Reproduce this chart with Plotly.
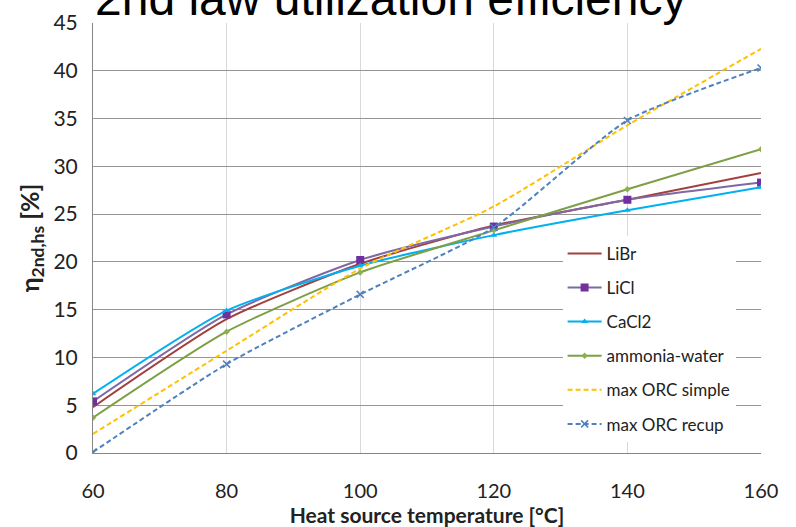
import plotly.graph_objects as go

temps = [60, 80, 100, 120, 140, 160]
libr = [4.8, 14.0, 19.8, 23.8, 26.5, 29.3]
licl = [5.4, 14.5, 20.2, 23.7, 26.5, 28.3]
cacl2 = [6.2, 14.9, 19.6, 22.8, 25.4, 27.8]
ammonia = [3.7, 12.7, 18.9, 23.3, 27.6, 31.8]
orc_simple = [2.0, 10.7, 19.3, 25.8, 34.3, 42.3]
orc_recup = [0.1, 9.3, 16.6, 23.6, 34.8, 40.3]

x_ticks = [60, 80, 100, 120, 140, 160]
y_ticks = [0, 5, 10, 15, 20, 25, 30, 35, 40, 45]

series = [
    ("LiBr", libr, dict(color="#A0413F", width=2), None),
    ("LiCl", licl, dict(color="#7F68A3", width=2), dict(symbol="square", size=8, color="#7030A0")),
    ("CaCl2", cacl2, dict(color="#00B0F0", width=2), dict(symbol="triangle-up", size=6, color="#00B0F0")),
    ("ammonia-water", ammonia, dict(color="#7E9F45", width=2), dict(symbol="diamond", size=5, color="#8DB04F")),
    ("max ORC simple", orc_simple, dict(color="#FFC000", width=2, dash="5px,3px"), None),
    ("max ORC recup", orc_recup, dict(color="#4F81BD", width=2, dash="5px,3px"), dict(symbol="x-thin", size=7, color="#4F81BD", line=dict(color="#4F81BD", width=1.5))),
]

fig = go.Figure()
for i, (name, vals, line, marker) in enumerate(series):
    fig.add_trace(go.Scatter(
        x=temps, y=vals, name=name,
        mode="lines+markers" if marker else "lines",
        line=dict(shape="spline", smoothing=0.6, **line),
        marker=marker,
        legendgroup=f"g{i}",
    ))

fig.update_layout(
    width=796, height=527,
    margin=dict(l=93, r=35, t=23, b=74),
    paper_bgcolor="white", plot_bgcolor="white",
    font=dict(family="Lato, Liberation Sans, sans-serif", color="#222"),
    showlegend=True,
    legend=dict(
        x=0.703, y=0.505, xanchor="left", yanchor="top",
        bgcolor="white", font=dict(size=17, color="#222"),
        tracegroupgap=9, traceorder="grouped",
        itemwidth=34,
    ),
    xaxis=dict(
        range=[60, 160], tickvals=x_ticks, ticktext=[str(v) for v in x_ticks],
        showgrid=True, gridcolor="#D9D9D9", gridwidth=1,
        showline=True, linecolor="#868686", linewidth=1,
        zeroline=False, tickfont=dict(size=20, color="#222"),
        ticklabelstandoff=20, automargin=False,
        title=dict(text="<b>Heat source temperature [°C]</b>", font=dict(size=21, color="#222"), standoff=2),
    ),
    yaxis=dict(
        range=[0, 45], tickvals=y_ticks, ticktext=[str(v) for v in y_ticks],
        showgrid=True, gridcolor="#969696", gridwidth=1,
        showline=True, linecolor="#868686", linewidth=1,
        zeroline=False, tickfont=dict(size=21, color="#222"),
        ticklabelstandoff=10, automargin=False,
        title=dict(text="<b>η<sub>2nd,hs</sub> [%]</b>", font=dict(size=25, color="#222"), standoff=6),
    ),
    shapes=[dict(type="rect", xref="paper", yref="paper",
                 x0=-0.2, x1=1.2, y0=453/430, y1=(453 + 4) / 430,
                 fillcolor="#E3E3E3", line=dict(width=0), layer="below")],
    annotations=[dict(
        text="2nd law utilization efficiency", xref="paper", yref="paper",
        x=0.0, y=1.057, xanchor="left", yanchor="middle", showarrow=False,
        font=dict(family="Liberation Sans, Arial, sans-serif", size=48, color="black"),
    )],
)

fig.write_html("out.html")
